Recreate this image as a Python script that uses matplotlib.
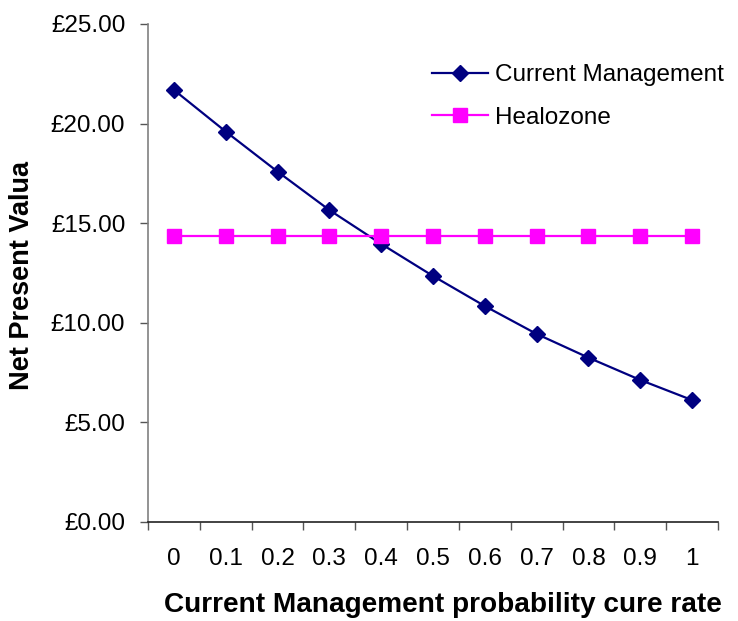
import matplotlib
matplotlib.use("Agg")
import matplotlib.pyplot as plt
import numpy as np

plt.rcParams['font.family'] = ['Liberation Sans', 'DejaVu Sans']

categories = ["0", "0.1", "0.2", "0.3", "0.4", "0.5", "0.6", "0.7", "0.8", "0.9", "1"]
current_management = [21.69, 19.60, 17.59, 15.66, 13.96, 12.35, 10.84, 9.44, 8.25, 7.13, 6.12]
healozone = [14.37] * 11
yticks = [0, 5, 10, 15, 20, 25]
ytick_labels = ["£0.00", "£5.00", "£10.00", "£15.00", "£20.00", "£25.00"]

W, H = 738, 621
fig = plt.figure(figsize=(W / 100, H / 100), dpi=100)
ax = fig.add_axes([148 / W, 1 - 522 / H, (718 - 148) / W, (522 - 24) / H])

x = np.arange(len(categories))
ax.plot(x, current_management, color='#000080', lw=1.6, marker='D', markersize=8.5,
        markerfacecolor='#000080', markeredgecolor='#000080', label='Current Management')
ax.plot(x, healozone, color='#FF00FF', lw=1.6, marker='s', markersize=10.5,
        markerfacecolor='#FF00FF', markeredgecolor='#FF00FF', label='Healozone')

ax.set_xlim(-0.5, len(categories) - 0.5)
ax.set_ylim(0, 25)
ax.set_yticks(yticks)
ax.set_yticklabels(ytick_labels)
ax.set_xticks(x)
ax.set_xticklabels(categories)
ax.set_xticks(np.arange(-0.5, len(categories), 1.0), minor=True)

fs = 17.5
ax.tick_params(axis='y', which='major', direction='out', length=5.8, width=1, color='#555555',
               labelsize=fs, pad=10.5)
ax.tick_params(axis='x', which='major', length=0, labelsize=fs, pad=19)
ax.tick_params(axis='x', which='minor', direction='out', length=5.8, width=1, color='#555555')

for s in ['top', 'right']:
    ax.spines[s].set_visible(False)
ax.spines['left'].set_color('#808080')
ax.spines['left'].set_linewidth(1.2)
ax.spines['bottom'].set_color('#222222')
ax.spines['bottom'].set_linewidth(1.2)

fig.text(443 / W, 1 - 605 / H, "Current Management probability cure rate", ha='center', va='center',
         fontsize=20.2, fontweight='bold')
fig.text(22 / W, 1 - 276 / H, "Net Present Valua", ha='center', va='center', rotation=90,
         fontsize=19.5, fontweight='bold')

leg = ax.legend(loc='upper left', bbox_to_anchor=(432 / W, 1 - 64 / H), bbox_transform=fig.transFigure,
                frameon=False, fontsize=fs, handlelength=2.3, handletextpad=0.3, labelspacing=0.85,
                borderpad=0, borderaxespad=0)

fig.savefig("out.png", dpi=100)
